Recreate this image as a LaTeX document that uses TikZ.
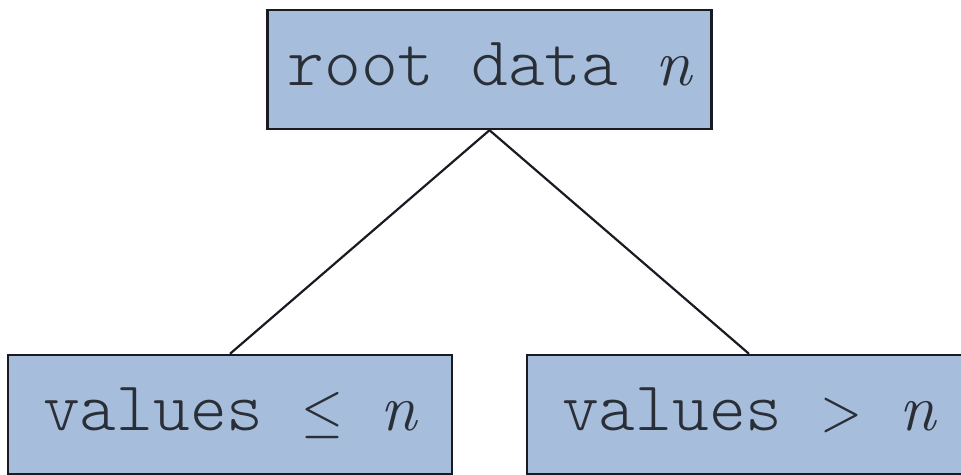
\documentclass[tikz,border=0pt]{standalone}
\usepackage{graphicx}
\usepackage{fontspec}
\setmonofont{Latin Modern Mono Light}
\definecolor{boxfill}{HTML}{A6BDDB}
\definecolor{boxline}{HTML}{1A1A22}
\definecolor{txt}{HTML}{2A2E36}
\newcommand{\varn}{{\rmfamily\itshape\fontsize{66}{70}\selectfont n}}
\newcommand{\cellsym}[1]{\makebox[0.62em][c]{\scalebox{5.4}[6]{\fontsize{10}{12}\selectfont$#1$}}}
\begin{document}
\begin{tikzpicture}[x=1pt,y=-1pt,
  treebox/.style={draw=boxline, line width=2.4pt, fill=boxfill, rectangle,
    minimum width=444pt, minimum height=119pt, inner sep=0pt,
    text height=31pt, text depth=0pt,
    font=\fontsize{70}{76}\selectfont\ttfamily, text=txt},
  link/.style={draw=boxline, line width=2.2pt}]
\useasboundingbox (0,0) rectangle (961,474);
\node[treebox] (root) at (489.5,69.5) {root data \varn};
\node[treebox] (left) at (230,414.5) {values \cellsym{\leq} \varn};
\node[treebox] (right) at (749,414.5) {values \cellsym{>} \varn};
\draw[link] (root.south) -- (left.north);
\draw[link] (root.south) -- (right.north);
\end{tikzpicture}
\end{document}
